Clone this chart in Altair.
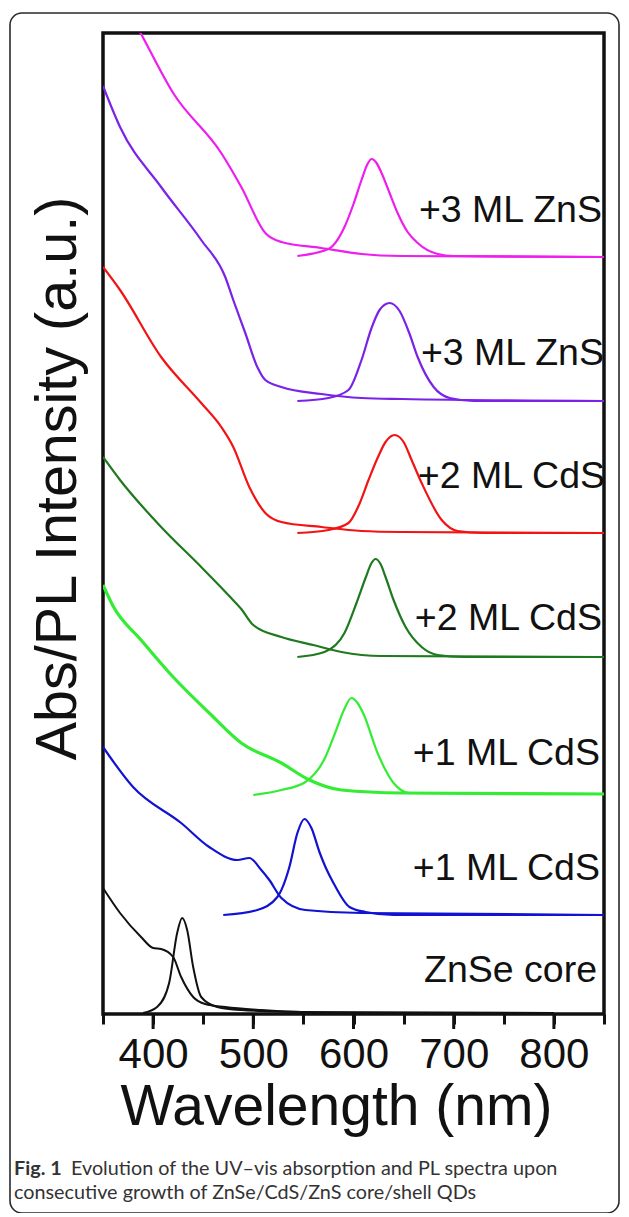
import altair as alt
import pandas as pd

# ---------------- data (wavelength in nm, intensity in a.u. incl. vertical offset) -------------
wl_abs_zns3b = [350, 387, 420, 468, 488, 512, 528, 568, 608, 648, 850]
ab_zns3b = [10.50, 9.82, 9.21, 8.61, 8.27, 7.81, 7.72, 7.66, 7.60, 7.58, 7.57]
wl_pl_zns3b = [544, 575, 591, 600, 608, 614, 618, 623, 628, 636, 644, 654, 664, 684, 700, 850]
pl_zns3b = [7.58, 7.65, 7.87, 8.10, 8.34, 8.50, 8.55, 8.51, 8.41, 8.21, 8.01, 7.82, 7.71, 7.60, 7.58, 7.57]

wl_abs_zns3a = [350, 367, 408, 448, 472, 480, 492, 504, 512, 528, 568, 608, 648, 850]
ab_zns3a = [9.28, 8.87, 8.27, 7.74, 7.37, 7.14, 6.81, 6.47, 6.34, 6.27, 6.20, 6.16, 6.15, 6.13]
wl_pl_zns3a = [544, 575, 595, 608, 618, 626, 636, 646, 656, 664, 680, 696, 720, 850]
pl_zns3a = [6.13, 6.16, 6.24, 6.54, 6.86, 7.04, 7.11, 7.03, 6.80, 6.57, 6.27, 6.16, 6.13, 6.13]

wl_abs_cds2b = [350, 367, 408, 448, 468, 480, 496, 512, 528, 568, 608, 648, 850]
ab_cds2b = [7.47, 7.24, 6.57, 6.11, 5.87, 5.67, 5.27, 5.01, 4.92, 4.87, 4.83, 4.82, 4.81]
wl_pl_cds2b = [544, 575, 595, 605, 615, 624, 632, 641, 650, 658, 668, 688, 704, 730, 850]
pl_cds2b = [4.81, 4.84, 4.91, 5.08, 5.34, 5.56, 5.72, 5.79, 5.72, 5.54, 5.31, 4.94, 4.83, 4.81, 4.81]

wl_abs_cds2a = [350, 367, 408, 448, 476, 488, 500, 528, 560, 588, 628, 850]
ab_cds2a = [5.57, 5.34, 4.87, 4.47, 4.18, 4.05, 3.89, 3.77, 3.69, 3.62, 3.58, 3.57]
wl_pl_cds2a = [544, 571, 591, 603, 612, 618, 622, 627, 632, 640, 652, 668, 684, 710, 850]
pl_cds2a = [3.57, 3.62, 3.81, 4.11, 4.36, 4.51, 4.55, 4.50, 4.37, 4.14, 3.87, 3.67, 3.59, 3.57, 3.57]

wl_abs_cds1b = [350, 360, 388, 420, 456, 488, 528, 556, 588, 648, 850]
ab_cds1b = [4.29, 4.08, 3.74, 3.37, 3.01, 2.71, 2.51, 2.34, 2.24, 2.21, 2.20]
wl_pl_cds1b = [500, 528, 552, 572, 582, 590, 598, 604, 610, 624, 640, 656, 850]
pl_cds1b = [2.19, 2.24, 2.32, 2.57, 2.82, 3.03, 3.16, 3.11, 3.00, 2.61, 2.31, 2.21, 2.20]

wl_abs_cds1a = [350, 380, 428, 456, 484, 496, 508, 516, 528, 552, 608, 850]
ab_cds1a = [2.67, 2.27, 1.91, 1.67, 1.54, 1.56, 1.44, 1.34, 1.16, 1.04, 1.01, 0.99]
wl_pl_cds1a = [470, 504, 524, 536, 544, 551, 558, 566, 572, 580, 596, 612, 640, 850]
pl_cds1a = [0.99, 1.04, 1.17, 1.47, 1.81, 1.95, 1.86, 1.62, 1.47, 1.31, 1.07, 1.02, 0.99, 0.99]

wl_abs_core = [350, 367, 388, 400, 408, 420, 428, 440, 452, 472, 508, 548, 800]
ab_core = [1.26, 1.01, 0.77, 0.66, 0.65, 0.57, 0.37, 0.17, 0.10, 0.07, 0.04, 0.02, 0.01]
wl_pl_core = [390, 404, 416, 424, 429, 434, 440, 448, 464, 488, 548]
pl_core = [0.01, 0.07, 0.31, 0.81, 0.96, 0.84, 0.47, 0.17, 0.07, 0.04, 0.02]

label_text = ["+3 ML ZnS", "+3 ML ZnS", "+2 ML CdS", "+2 ML CdS", "+1 ML CdS", "+1 ML CdS", "ZnSe core"]
label_wl = [848, 850, 851, 848, 846, 846, 843]
label_val = [7.92, 6.49, 5.26, 3.84, 2.49, 1.34, 0.32]

x_ticks = [350, 400, 450, 500, 550, 600, 650, 700, 750, 800, 850]

caption_bold = "Fig. 1"
caption_line1 = "Evolution of the UV\u2013vis absorption and PL spectra upon"
caption_line2 = "consecutive growth of ZnSe/CdS/ZnS core/shell QDs"

# ---------------- chart ----------------
W, H = 501, 981
xs = alt.Scale(domain=[350, 850], nice=False, zero=False)
ys = alt.Scale(domain=[0, 9.81], nice=False, zero=False)

series = [
    (wl_abs_core, ab_core, "#111111", 2),
    (wl_pl_core, pl_core, "#111111", 2),
    (wl_abs_cds1a, ab_cds1a, "#1212d2", 2.2),
    (wl_pl_cds1a, pl_cds1a, "#1212d2", 2.2),
    (wl_abs_cds1b, ab_cds1b, "#35ec35", 3.2),
    (wl_pl_cds1b, pl_cds1b, "#35ec35", 2.2),
    (wl_abs_cds2a, ab_cds2a, "#1f7a1f", 2.2),
    (wl_pl_cds2a, pl_cds2a, "#1f7a1f", 2.2),
    (wl_abs_cds2b, ab_cds2b, "#f21414", 2.2),
    (wl_pl_cds2b, pl_cds2b, "#f21414", 2.2),
    (wl_abs_zns3a, ab_zns3a, "#7b22e8", 2.2),
    (wl_pl_zns3a, pl_zns3a, "#7b22e8", 2.2),
    (wl_abs_zns3b, ab_zns3b, "#ee1eee", 2.2),
    (wl_pl_zns3b, pl_zns3b, "#ee1eee", 2.2),
]

x_axis = alt.Axis(
    values=x_ticks,
    labelExpr="(datum.value % 100 == 0 && datum.value > 350 && datum.value < 850) ? datum.label : ''",
    labelFont="Liberation Sans", labelFontSize=42, labelColor="#111", labelPadding=10,
    tickSize=10, tickWidth=3, tickColor="#111", domain=False, grid=False,
    title="Wavelength (nm)", titleFont="Liberation Sans", titleFontSize=57,
    titleFontWeight="normal", titleColor="#111", titleX=233, titleY=110,
    titleAlign="center", titleBaseline="alphabetic",
)
y_axis = alt.Axis(
    labels=False, ticks=False, domain=False, grid=False,
    title="Abs/PL Intensity (a.u.)", titleFont="Liberation Sans", titleFontSize=57.5,
    titleFontWeight="normal", titleColor="#111", titleX=-28, titleY=445,
    titleAngle=270, titleAlign="center", titleBaseline="alphabetic",
)

enc_x = alt.X("wl:Q", scale=xs, axis=x_axis)
enc_y = alt.Y("val:Q", scale=ys, axis=y_axis)

layers = []
for wl, val, col, sw in series:
    df = pd.DataFrame({"wl": wl, "val": val})
    layers.append(
        alt.Chart(df).mark_line(color=col, strokeWidth=sw, interpolate="monotone", clip=True)
        .encode(x=enc_x, y=enc_y)
    )

# longer ticks at the labelled hundreds
major_df = pd.DataFrame({"wl": [t for t in x_ticks if t % 100 == 0 and 350 < t < 850]})
major_ticks = alt.Chart(major_df).mark_rule(color="#111", strokeWidth=3).encode(
    x=enc_x, y=alt.value(H), y2=alt.value(H + 15)
)

lab_df = pd.DataFrame({"t": label_text, "wl": label_wl, "val": label_val})
labels = alt.Chart(lab_df).mark_text(
    align="right", baseline="alphabetic", font="Liberation Sans", fontSize=37.5, color="#111"
).encode(x=enc_x, y=enc_y, text="t:N")

one = pd.DataFrame({"k": [0]})
card = alt.Chart(one).mark_rect(
    fillOpacity=0, stroke="#2a2a2a", strokeWidth=1.6, cornerRadius=12
).encode(x=alt.value(-93), x2=alt.value(516), y=alt.value(-20), y2=alt.value(1180))

cap_b = alt.Chart(one).mark_text(
    align="left", baseline="alphabetic", font="Lato", fontSize=19.8, fontWeight="bold", color="#333"
).encode(x=alt.value(-89), y=alt.value(1142), text=alt.value(caption_bold))
cap_1 = alt.Chart(one).mark_text(
    align="left", baseline="alphabetic", font="Lato", fontSize=19.8, color="#333"
).encode(x=alt.value(-32), y=alt.value(1142), text=alt.value(caption_line1))
cap_2 = alt.Chart(one).mark_text(
    align="left", baseline="alphabetic", font="Lato", fontSize=19.8, color="#333"
).encode(x=alt.value(-89), y=alt.value(1166), text=alt.value(caption_line2))

chart = alt.layer(*layers, major_ticks, labels, card, cap_b, cap_1, cap_2).properties(
    width=W, height=H,
    autosize=alt.AutoSizeParams(type="none"),
    padding={"left": 95, "top": 25, "right": 17, "bottom": 199},
    background="white",
).configure_view(stroke="#111", strokeWidth=3.5)

chart.save("out.html", embed_options={"renderer": "svg", "actions": False})
